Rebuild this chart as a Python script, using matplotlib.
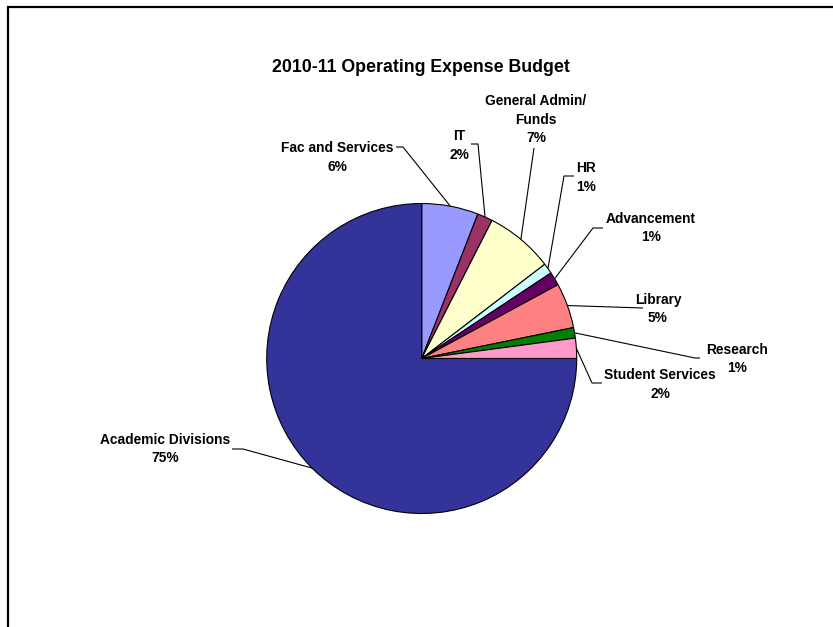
import numpy as np
import matplotlib
matplotlib.use("Agg")
from matplotlib import pyplot as plt

# budget shares in percent, clockwise from 12 o'clock
categories = ["Fac and Services", "IT", "General Admin/\nFunds", "HR", "Advancement",
              "Library", "Research", "Student Services", "Academic Divisions"]
shares = [5.9, 1.6, 7.1, 1.1, 1.4, 4.7, 1.1, 2.1, 75.0]
colors = ["#9999FF", "#993366", "#FFFFCC", "#CCFFFF", "#660066",
          "#FF8080", "#008000", "#FF99CC", "#333399"]

W, H = 833, 627
cx, cy, r = 421.7, 358.5, 155

# label centres (pixels from top-left) and leader line start points
label_pos = [(337, 157.5), (459, 145.5), (536, 119.5), (586, 177.5), (651, 228),
             (658, 309), (737, 359), (660, 384.5), (165, 449)]
leaders = [[(396, 147), (403, 147)],
           [(471, 144), (478, 144)],
           [(534, 148)],
           [(574, 176), (564, 176)],
           [(603, 228), (593, 228)],
           [(643, 308)],
           [(700, 358), (695, 358)],
           [(602, 383), (592, 383)],
           [(232, 449), (243, 449)]]


def fy(y):
    return H - y


fig = plt.figure(figsize=(W / 100, H / 100), dpi=100)
ax = fig.add_axes([0, 0, 1, 1])

wedges, _ = ax.pie(shares, colors=colors, startangle=90, counterclock=False,
                   center=(cx, fy(cy)), radius=r,
                   wedgeprops=dict(edgecolor="black", linewidth=0.8))
ax.set_xlim(0, W)
ax.set_ylim(0, H)
ax.set_aspect("auto")
ax.axis("off")

for w, name, val, (lx, ly), pts in zip(wedges, categories, shares, label_pos, leaders):
    mid = np.deg2rad((w.theta1 + w.theta2) / 2)
    ex = cx + r * np.cos(mid)
    ey = fy(cy) + r * np.sin(mid)
    xs = [p[0] for p in pts] + [ex]
    ys = [fy(p[1]) for p in pts] + [ey]
    ax.plot(xs, ys, color="black", lw=0.8, solid_capstyle="butt")
    ax.text(lx, fy(ly), f"{name}\n{val:.0f}%", ha="center", va="center",
            fontsize=9.9, fontweight="bold", family="Liberation Sans",
            linespacing=1.42)

ax.text(421, fy(67), "2010-11 Operating Expense Budget", ha="center", va="center",
        fontsize=12.8, fontweight="bold", family="Liberation Sans")

# outer chart frame (top and left edges only)
ax.plot([8.5, 8.5, W], [0, fy(6.5), fy(6.5)], color="black", lw=1.6,
        solid_joinstyle="miter")

fig.savefig("out.png", dpi=100)
